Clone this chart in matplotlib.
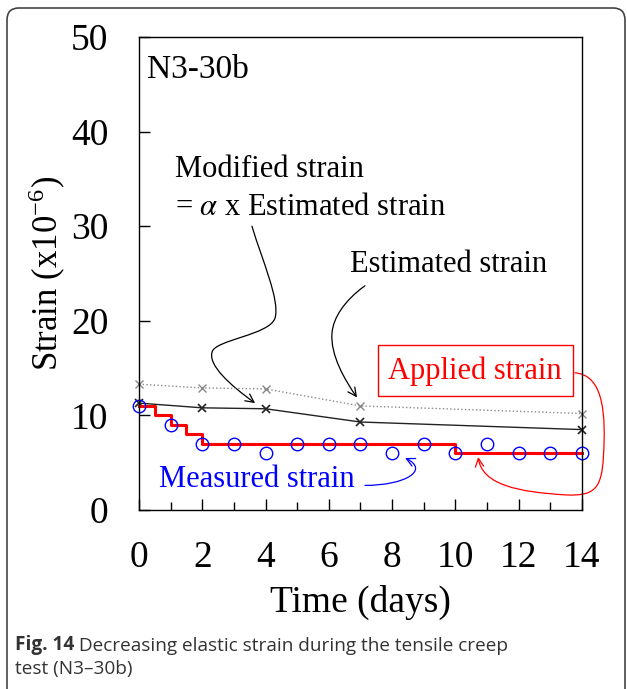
import matplotlib.pyplot as plt
import numpy as np
from matplotlib.path import Path
from matplotlib.patches import FancyArrowPatch, FancyBboxPatch

plt.rcParams['font.family'] = ['Liberation Serif', 'DejaVu Serif']
plt.rcParams['mathtext.fontset'] = 'stix'

# values
days = np.arange(0, 15)
measured = [11, 9, 7, 7, 6, 7, 7, 7, 6, 7, 6, 7, 6, 6, 6]

applied_days = [0, 0.5, 1, 1.5, 2, 10, 14]
applied = [11, 10, 9, 8, 7, 6, 6]

est_days = [0, 2, 4, 7, 14]
estimated = [13.3, 12.9, 12.8, 11.0, 10.2]
modified = [11.3, 10.8, 10.7, 9.3, 8.5]

fig = plt.figure(figsize=(6.27, 6.89), dpi=100)
ax = fig.add_axes([0.2217, 0.2598, 0.7065, 0.6865])

ax.plot(est_days, estimated, color='#8a8a8a', ls=':', lw=1, marker='x', ms=6, mew=1, clip_on=False)
ax.plot(est_days, modified, color='#222222', ls='-', lw=1, marker='x', ms=6, mew=1.2, clip_on=False)
ax.plot(applied_days, applied, color='red', lw=2.2, drawstyle='steps-post', clip_on=False)
ax.plot(days, measured, ls='none', marker='o', ms=9, mfc='none', mec='blue', mew=1, clip_on=False)

ax.set_xlim(0, 14)
ax.set_ylim(0, 50)
ax.set_xticks(np.arange(0, 15, 2))
ax.set_xticks(np.arange(0, 15, 1), minor=True)
ax.set_yticks(np.arange(0, 51, 10))
ax.tick_params(axis='both', which='major', direction='in', length=8, width=1, labelsize=27, pad=22)
ax.tick_params(axis='x', which='minor', direction='in', length=6, width=1)
for s in ax.spines.values():
    s.set_linewidth(1)

ax.set_xlabel('Time (days)', fontsize=27)
ax.set_ylabel('Strain (x10$^{\\mathregular{-6}}$)', fontsize=25)
ax.xaxis.set_label_coords(0.5, -0.158)
ax.yaxis.set_label_coords(-0.162, 0.5)

# annotations
ax.text(0.018, 0.93, 'N3-30b', transform=ax.transAxes, fontsize=24, ha='left', va='center')
ax.text(1.14, 36.0, 'Modified strain', fontsize=22, ha='left', va='center')
ax.text(1.14, 32.0, '= $\\alpha$ x Estimated strain', fontsize=22, ha='left', va='center')
ax.text(6.67, 25.9, 'Estimated strain', fontsize=22, ha='left', va='center')
ax.text(10.62, 14.7, 'Applied strain', fontsize=22, ha='center', va='center', color='red',
        bbox=dict(boxstyle='square,pad=0.35', fc='white', ec='red', lw=1))
ax.text(0.63, 3.2, 'Measured strain', fontsize=22, ha='left', va='center', color='blue')


def curve(pts, color):
    codes = [Path.MOVETO] + [Path.CURVE4] * (len(pts) - 1)
    arr = FancyArrowPatch(path=Path(pts, codes), arrowstyle='->,head_length=6,head_width=3',
                          color=color, lw=0.9, transform=ax.transData, clip_on=False)
    ax.add_patch(arr)


curve([(3.57, 30.0), (3.89, 26.4), (4.46, 22.2), (4.30, 20.3),
       (4.14, 18.5), (2.40, 18.0), (2.31, 16.7),
       (2.18, 15.3), (2.88, 13.2), (3.67, 11.3)], 'black')
curve([(7.14, 23.7), (6.51, 22.2), (6.13, 20.3), (6.10, 18.7),
       (6.04, 16.4), (6.51, 13.7), (6.89, 11.9)], 'black')
curve([(13.78, 14.5), (14.51, 14.3), (14.73, 11.6), (14.70, 7.4),
       (14.66, 2.6), (14.57, 1.4), (13.46, 1.6),
       (12.04, 1.9), (10.84, 2.6), (10.72, 5.6)], 'red')
curve([(7.14, 2.6), (8.41, 2.6), (9.20, 4.2), (8.41, 5.5)], 'blue')

# rounded frame of the figure panel
frame = FancyBboxPatch((0.07, -0.2), 6.18, 7.01, boxstyle='round,pad=0,rounding_size=0.12',
                       transform=fig.dpi_scale_trans, fc='none', ec='#444444', lw=1.2)
fig.patches.append(frame)

# caption
bold = fig.text(15 / 627, 1 - 645 / 689, 'Fig. 14', fontsize=13.7, fontweight='bold',
                family='Open Sans', color='#333333', va='center')
ax.annotate(' Decreasing elastic strain during the tensile creep', xy=(1, 0), xycoords=bold,
            xytext=(0, 0), textcoords='offset points', va='bottom', ha='left',
            fontsize=13.7, family='Open Sans', color='#333333', annotation_clip=False)
fig.text(15 / 627, 1 - 669 / 689, 'test (N3\u201330b)', fontsize=13.7, family='Open Sans',
         color='#333333', va='center')

fig.savefig('out.png', dpi=100)
